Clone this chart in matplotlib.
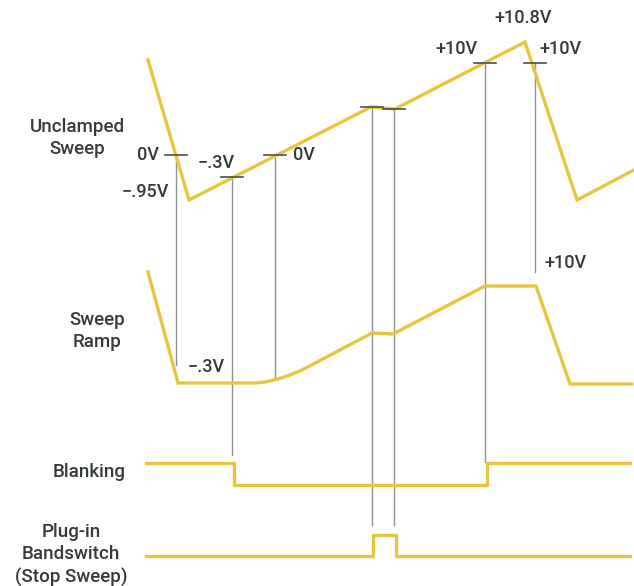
import matplotlib
matplotlib.use("Agg")
import matplotlib.pyplot as plt

# --- data (in drawing units: x = time, y = level position) ---
unclamped_t = [148, 189, 371, 395, 525, 577, 634]
unclamped_v = [60, 200, 107, 109, 42, 200, 170]

ramp_t = [148, 178, 255, 265, 278, 290, 302, 372, 393, 485, 536, 570, 632]
ramp_v = [272, 383, 383, 382, 379, 375, 370, 333, 334, 286, 286, 384, 384]

blank_t = [146, 234, 487, 630]
blank_v = [463, 485, 463, 463]

plugin_t = [146, 373, 396, 630]
plugin_v = [556, 535, 556, 556]

marker_t = [176, 232, 275, 372, 394, 485, 535]
marker_top = [155, 177, 155, 107, 109, 63, 63]
marker_bottom = [365, 455, 378, 525, 525, 462, 272]

value_labels = ["0V", "\u2212.3V", "0V", "+10V", "+10.8V", "+10V", "\u2212.95V",
                "\u2212.3V", "+10V"]
value_x = [148, 216, 304, 456, 523, 560, 145, 206, 565]
value_y = [155, 163, 155, 49, 18, 49, 192, 367, 263]

trace_names = ["Unclamped\nSweep", "Sweep\nRamp", "Blanking", "Plug-in\nBandswitch\n(Stop Sweep)"]
trace_name_x = [77, 97, 89, 71]
trace_name_y = [138, 331, 472, 555]

YELLOW = "#e6c640"
GRAY = "#8a9494"
TEXT = "#343a3a"
FONT = ["Roboto", "Liberation Sans", "DejaVu Sans"]

fig = plt.figure(figsize=(6.34, 5.86), dpi=100)
ax = fig.add_axes([0, 0, 1, 1])
ax.set_xlim(0, 634)
ax.set_ylim(586, 0)
ax.axis("off")

# cursor lines and ticks
for t, top, bot in zip(marker_t, marker_top, marker_bottom):
    ax.plot([t, t], [top, bot], color=GRAY, lw=1.0, zorder=1)
    ax.plot([t - 11, t + 11], [top, top], color="#4a5050", lw=1.2, zorder=3)

# waveforms
ax.plot(unclamped_t, unclamped_v, color=YELLOW, lw=2.4, solid_joinstyle="miter", zorder=2)
ax.plot(ramp_t, ramp_v, color=YELLOW, lw=2.4, solid_joinstyle="miter", zorder=2)
ax.plot(blank_t, blank_v, color=YELLOW, lw=2.4, drawstyle="steps-post", zorder=2)
ax.plot(plugin_t, plugin_v, color=YELLOW, lw=2.4, drawstyle="steps-post", zorder=2)

for s, x, y in zip(value_labels, value_x, value_y):
    ax.text(x, y, s, ha="center", va="center", fontsize=13, color=TEXT,
            family=FONT, fontweight="medium")

for s, x, y in zip(trace_names, trace_name_x, trace_name_y):
    ax.text(x, y, s, ha="center", va="center", fontsize=13.5, color=TEXT,
            family=FONT, fontweight="medium", linespacing=1.3)

fig.savefig("out.png", dpi=100)
